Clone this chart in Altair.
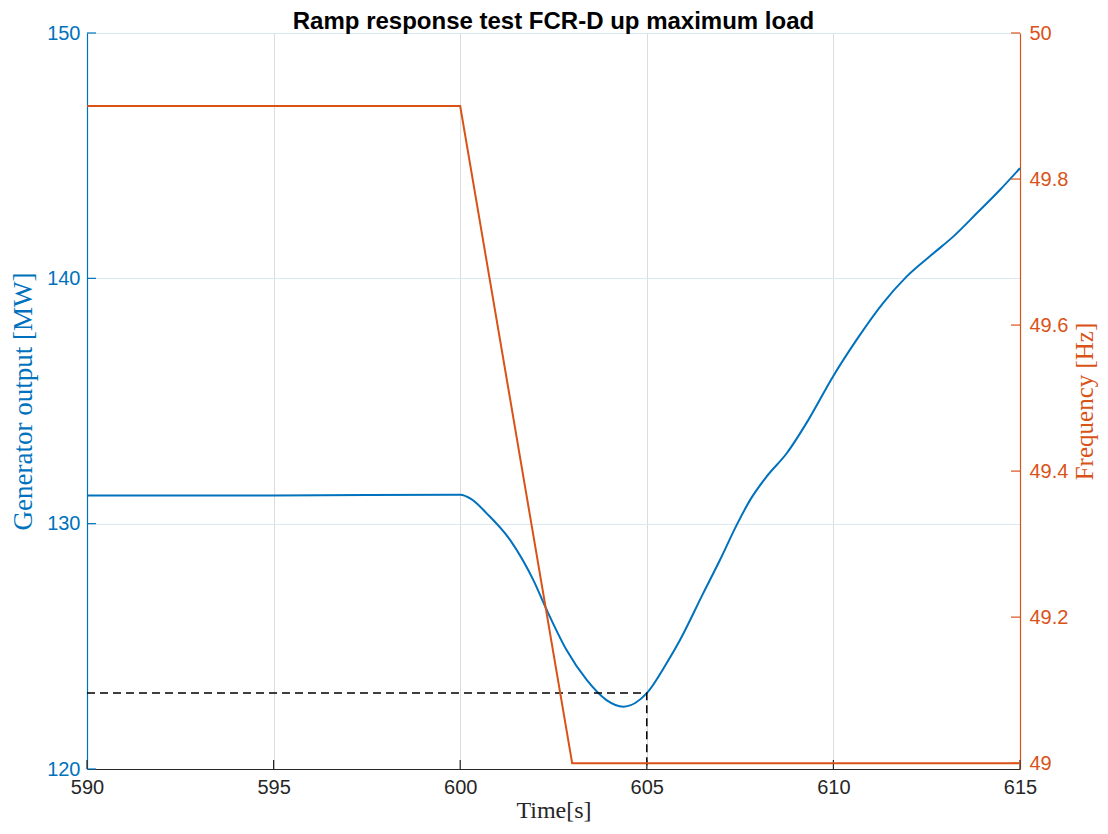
import altair as alt
import pandas as pd

# ---- data ----
gen_time = [590, 595, 600, 600.3, 600.71, 601.34, 601.96, 602.32, 602.85, 603.39,
            603.92, 604.37, 604.7, 605.0, 605.53, 605.89, 606.51, 606.96, 607.41,
            607.77, 608.21, 608.75, 609.33, 609.99, 610.62, 611.33, 611.96, 612.68,
            613.21, 613.84, 614.46, 615]
gen_mw = [131.15, 131.15, 131.18, 131.0, 130.42, 129.33, 127.70, 126.48, 124.85, 123.63,
          122.81, 122.54, 122.7, 123.09, 124.31, 125.26, 127.16, 128.52, 129.95,
          130.97, 131.92, 132.87, 134.23, 136.0, 137.49, 138.99, 140.07, 141.02,
          141.70, 142.65, 143.60, 144.49]

freq_time = [590, 600, 603, 615]
freq_hz = [49.9, 49.9, 49.0, 49.0]

ref_time = [590, 605, 605]
ref_mw = [123.1, 123.1, 120.0]

x_ticks = [590, 595, 600, 605, 610, 615]
left_ticks = [120, 130, 140, 150]
right_ticks = [49.0, 49.2, 49.4, 49.6, 49.8, 50.0]

BLUE = "#0072BD"
ORANGE = "#D95319"
DARK = "#262626"
W, H = 933, 736

gen_df = pd.DataFrame({"t": gen_time, "mw": gen_mw})
freq_df = pd.DataFrame({"t": freq_time, "hz": freq_hz})
ref_df = pd.DataFrame({"t": ref_time, "mw": ref_mw, "i": list(range(len(ref_time)))})
xt_df = pd.DataFrame({"t": x_ticks})
lt_df = pd.DataFrame({"mw": left_ticks})
rt_df = pd.DataFrame({"hz": right_ticks})

xscale = alt.Scale(domain=[590, 615], nice=False, zero=False)
yl = alt.Scale(domain=[120, 150], nice=False, zero=False)
yr = alt.Scale(domain=[48.992, 50], nice=False, zero=False)

x_axis = alt.Axis(values=x_ticks, title="Time[s]", grid=True, gridColor="#dcdcdc",
                  ticks=False, domainColor=DARK, domainWidth=1.2, labelColor=DARK,
                  labelFont="Liberation Sans", labelFontSize=20, labelPadding=8,
                  labelFlush=False,
                  titleFont="Liberation Serif", titleFontSize=24, titleFontWeight="normal",
                  titleColor=DARK, titlePadding=1)
left_axis = alt.Axis(values=left_ticks, orient="left", title="Generator output [MW]",
                     grid=True, gridColor="#d9eaf5", ticks=False, domainColor=BLUE,
                     domainWidth=1.2, labelColor=BLUE, labelFont="Liberation Sans",
                     labelFontSize=20, labelPadding=7, labelFlush=False,
                     titleFont="Liberation Serif",
                     titleFontSize=27, titleFontWeight="normal", titleColor=BLUE,
                     titlePadding=9)
right_axis = alt.Axis(values=right_ticks, orient="right", title="Frequency [Hz]",
                      format=".1~f", grid=False, ticks=False, domainColor=ORANGE,
                      domainWidth=1.2, labelColor=ORANGE, labelFont="Liberation Sans",
                      labelFontSize=20, labelPadding=9, labelFlush=False,
                      titleFont="Liberation Serif", titleAngle=270, titleBaseline="top",
                      titleFontSize=25, titleFontWeight="normal", titleColor=ORANGE,
                      titlePadding=5)

X = alt.X("t:Q", scale=xscale, axis=x_axis)
YL = alt.Y("mw:Q", scale=yl, axis=left_axis)
YR = alt.Y("hz:Q", scale=yr, axis=right_axis)

blue_line = alt.Chart(gen_df).mark_line(color=BLUE, strokeWidth=2, interpolate="monotone").encode(
    x=X, y=YL,
)
dashed = alt.Chart(ref_df).mark_line(color="black", strokeWidth=1.5, strokeDash=[8, 5]).encode(
    x=X, y=YL, order="i:Q",
)
lticks = alt.Chart(lt_df).mark_rule(color=BLUE, strokeWidth=1.2).encode(
    y=YL, x=alt.value(0), x2=alt.value(9),
)
xticks = alt.Chart(xt_df).mark_rule(color=DARK, strokeWidth=1.2).encode(
    x=X, y=alt.value(H), y2=alt.value(H - 9),
)
left_layer = alt.layer(blue_line, dashed, lticks, xticks)

orange_line = alt.Chart(freq_df).mark_line(color=ORANGE, strokeWidth=2).encode(
    x=X, y=YR,
)
rticks = alt.Chart(rt_df).mark_rule(color=ORANGE, strokeWidth=1.2).encode(
    y=YR, x=alt.value(W - 9), x2=alt.value(W),
)
right_layer = alt.layer(orange_line, rticks)

chart = alt.layer(left_layer, right_layer).resolve_scale(y="independent").properties(
    width=W, height=H,
    title=alt.TitleParams("Ramp response test FCR-D up maximum load", font="Liberation Sans",
                          fontSize=24, fontWeight="bold", color="black", offset=0, dy=11,
                          anchor="middle"),
    autosize=alt.AutoSizeParams(type="none"),
    padding={"left": 79, "top": 25, "right": 80, "bottom": 57},
).configure_view(stroke=None).configure(background="white")

chart.save("out.html", embed_options={"renderer": "svg", "actions": False})
